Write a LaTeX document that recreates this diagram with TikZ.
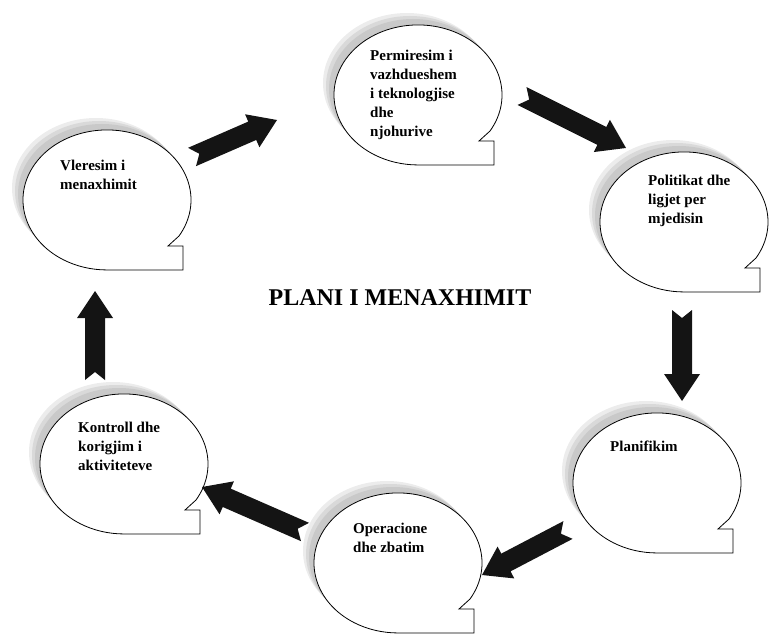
\documentclass[tikz,border=0pt]{standalone}
\usepackage{fontspec}
\setmainfont{Liberation Serif}
\usetikzlibrary{calc}

\newcommand{\talkbubble}[3]{%
  \begin{scope}[shift={(#2,#3)}]
    \fill[gray!15] (-11,-12) ellipse [x radius=84, y radius=70];
    \fill[gray!30] (-8,-9) ellipse [x radius=84, y radius=70];
    \fill[gray!42] (-5,-6) ellipse [x radius=84, y radius=70];
    \filldraw[bubble] (72,36) arc [start angle=31, end angle=-270, x radius=84, y radius=70]
      -- (76,70) -- (76,46) -- (61,46) -- cycle;
    \coordinate (#1) at (0,0);
  \end{scope}}

\newcommand{\notcharrow}[2]{%
  \coordinate (hb) at ($(#2)!27pt!(#1)$);
  \fill[blockarrow] ($(#1)!10pt!90:(#2)$) -- ($(#1)!8pt!(#2)$) -- ($(#1)!10pt!-90:(#2)$)
    -- ($(hb)!10pt!90:(#1)$) -- ($(hb)!18pt!90:(#1)$) -- (#2)
    -- ($(hb)!18pt!-90:(#1)$) -- ($(hb)!10pt!-90:(#1)$) -- cycle;}

\begin{document}
\begin{tikzpicture}[x = 1pt, y = -1pt,
                    bubble/.style = {draw = black, fill = white, line width = 0.8pt},
                    blockarrow/.style = {fill = black!92},
                    label/.style = {anchor = north west, inner sep = 0pt, align = left,
                                    font = \fontsize{15}{19}\selectfont\bfseries},
                    title/.style = {font = \fontsize{24}{27}\selectfont\bfseries}]
  \useasboundingbox (0, 0) rectangle (770, 636);
  \talkbubble{b1}{107}{200}
  \talkbubble{b2}{418}{95}
  \talkbubble{b3}{684}{222}
  \talkbubble{b4}{657}{483}
  \talkbubble{b5}{398}{563}
  \talkbubble{b6}{124}{464}
  \node [label] (t1) at (60, 160) {Vleresim i\\menaxhimit};
  \node [label] (t2) at (370, 50) {Permiresim i\\vazhdueshem\\i teknologjise\\dhe\\njohurive};
  \node [label] (t3) at (648, 175) {Politikat dhe\\ligjet per\\mjedisin};
  \node [label] (t4) at (610, 441) {Planifikim};
  \node [label] (t5) at (353, 523) {Operacione\\dhe zbatim};
  \node [label] (t6) at (78, 422) {Kontroll dhe\\korigjim i\\aktiviteteve};
  \node [title] (plan) at (400, 298) {PLANI I MENAXHIMIT};
  \coordinate (a1) at (192, 157);
  \coordinate (a2) at (277, 120);
  \coordinate (a3) at (522, 96);
  \coordinate (a4) at (626, 148);
  \coordinate (a5) at (682, 310);
  \coordinate (a6) at (682, 401);
  \coordinate (a7) at (568, 530);
  \coordinate (a8) at (482, 575);
  \coordinate (a9) at (305, 532);
  \coordinate (a10) at (202, 487);
  \coordinate (a11) at (95, 380);
  \coordinate (a12) at (95, 291);
  \notcharrow{a1}{a2}
  \notcharrow{a3}{a4}
  \notcharrow{a5}{a6}
  \notcharrow{a7}{a8}
  \notcharrow{a9}{a10}
  \notcharrow{a11}{a12}
\end{tikzpicture}
\end{document}
